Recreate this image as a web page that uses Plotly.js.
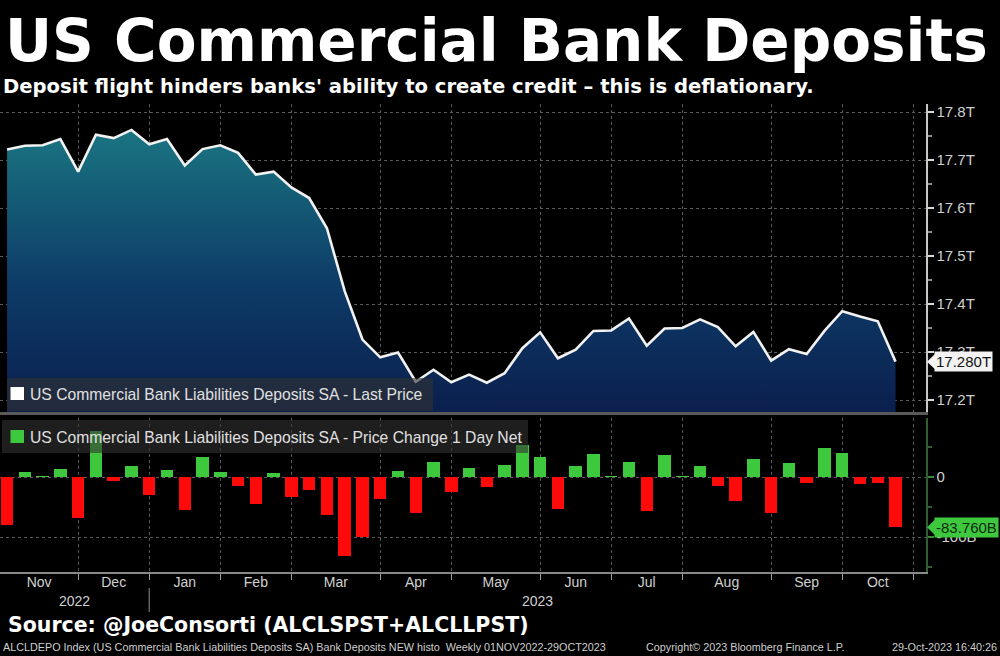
<!DOCTYPE html>
<html>
<head>
<meta charset="utf-8">
<script src="https://cdn.plot.ly/plotly-3.0.1.min.js"></script>
<style>
  html, body { margin: 0; padding: 0; background: #000; }
  #chart { width: 1000px; height: 656px; }
</style>
</head>
<body>
<div id="chart"></div>
<script>
// weekly observations (Wednesdays)
const weeks = [
  '2022-11-09', '2022-11-16', '2022-11-23', '2022-11-30',
  '2022-12-07', '2022-12-14', '2022-12-21', '2022-12-28',
  '2023-01-04', '2023-01-11', '2023-01-18', '2023-01-25',
  '2023-02-01', '2023-02-08', '2023-02-15', '2023-02-22',
  '2023-03-01', '2023-03-08', '2023-03-15', '2023-03-22', '2023-03-29',
  '2023-04-05', '2023-04-12', '2023-04-19', '2023-04-26',
  '2023-05-03', '2023-05-10', '2023-05-17', '2023-05-24', '2023-05-31',
  '2023-06-07', '2023-06-14', '2023-06-21', '2023-06-28',
  '2023-07-05', '2023-07-12', '2023-07-19', '2023-07-26',
  '2023-08-02', '2023-08-09', '2023-08-16', '2023-08-23', '2023-08-30',
  '2023-09-06', '2023-09-13', '2023-09-20', '2023-09-27',
  '2023-10-04', '2023-10-11', '2023-10-18', '2023-10-25'
];

// deposits, trillions USD
const deposits = [
  17.722, 17.730, 17.731, 17.744, 17.676, 17.753, 17.746, 17.763, 17.733, 17.744,
  17.689, 17.723, 17.731, 17.715, 17.670, 17.676, 17.643, 17.621, 17.558, 17.427,
  17.326, 17.289, 17.299, 17.238, 17.263, 17.237, 17.253, 17.236, 17.256, 17.308,
  17.341, 17.287, 17.305, 17.344, 17.345, 17.370, 17.313, 17.349, 17.350, 17.368,
  17.352, 17.312, 17.342, 17.282, 17.306, 17.296, 17.344, 17.385, 17.374, 17.364,
  17.280
];

// week-on-week change, billions USD
const weeklyChange = [
  -79.7, 7.7, 1.0, 13.7, -68.7, 77.0, -7.1, 17.6, -30.2, 11.0,
  -55.0, 34.0, 7.7, -15.4, -45.6, 6.0, -33.0, -22.0, -63.2, -130.8,
  -100.5, -36.8, 9.3, -60.4, 24.7, -25.8, 15.4, -16.5, 19.4, 52.8,
  33.0, -54.0, 17.8, 38.9, 1.0, 25.0, -56.7, 36.0, 1.0, 17.8,
  -15.6, -40.6, 30.6, -60.0, 23.3, -10.0, 48.3, 40.6, -11.0, -10.0,
  -83.76
];

// first observation of each month -> grid lines
const monthStarts = [
  '2022-12-07', '2023-01-04', '2023-02-01', '2023-03-01', '2023-04-05', '2023-05-03',
  '2023-06-07', '2023-07-05', '2023-08-02', '2023-09-06', '2023-10-04', '2023-11-01'
];
const monthNames = ['Nov', 'Dec', 'Jan', 'Feb', 'Mar', 'Apr', 'May', 'Jun', 'Jul', 'Aug', 'Sep', 'Oct'];
const years = ['2022', '2023'];

const xRange = ['2022-11-06 05:00', '2023-11-06'];
const lastPrice = 17.280;
const lastChange = -83.76;

const ms = d => Date.parse(d.replace(' ', 'T') + (d.length > 10 ? ':00Z' : 'T00:00:00Z'));
const bounds = [ms(xRange[0])].concat(monthStarts.map(ms));
const monthMids = monthNames.map((_, i) => (bounds[i] + bounds[i + 1]) / 2);
const yearMids = [
  (ms(xRange[0]) + ms('2023-01-04')) / 2,
  (ms('2023-01-04') + ms(xRange[1])) / 2
];

const axisFont = { family: 'Liberation Sans, Arial, sans-serif', size: 15, color: '#d0d0d0' };
const boldFont = 'DejaVu Sans, Verdana, sans-serif';
const smallFont = { family: 'Liberation Sans, Arial, sans-serif', size: 10.8, color: '#cfcfcf' };
const green = '#3ec83e';
const red = '#ff0a0a';

// paper y from pixel y (plot area spans 104..572)
const py = p => (572 - p) / 468;
const px = p => p / 926;

const traces = [
  {
    type: 'scatter',
    mode: 'lines',
    x: weeks,
    y: deposits,
    xaxis: 'x', yaxis: 'y',
    line: { color: '#f2f2f2', width: 2.6 },
    fill: 'tozeroy',
    fillgradient: {
      type: 'vertical',
      start: 17.175,
      stop: 17.76,
      colorscale: [[0, '#0b1f4e'], [0.45, '#0d3b67'], [1, '#1a7481']]
    },
    showlegend: false,
    hoverinfo: 'x+y'
  },
  {
    type: 'bar',
    x: weeks,
    y: weeklyChange,
    xaxis: 'x2', yaxis: 'y2',
    width: 4.9 * 86400000,
    marker: { color: weeklyChange.map(v => v >= 0 ? green : red), line: { width: 0 } },
    showlegend: false
  },
  // invisible trace to carry the month label axis
  {
    type: 'scatter', mode: 'markers',
    x: [weeks[0]], y: [0],
    xaxis: 'x3', yaxis: 'y2',
    marker: { opacity: 0 },
    showlegend: false, hoverinfo: 'skip'
  }
];

const gridStyle = { showgrid: true, gridcolor: '#5a5a5a', griddash: 'dot', gridwidth: 1 };

const layout = {
  width: 1000,
  height: 656,
  paper_bgcolor: '#000',
  plot_bgcolor: '#000',
  margin: { l: 0, r: 74, t: 104, b: 84 },
  showlegend: false,
  bargap: 0,
  xaxis: {
    ...gridStyle,
    type: 'date',
    range: xRange,
    domain: [0, 1],
    anchor: 'y',
    tickmode: 'array',
    tickvals: monthStarts,
    showticklabels: false,
    ticks: '',
    showline: true,
    linecolor: '#595959',
    linewidth: 3,
    zeroline: false,
    fixedrange: true
  },
  yaxis: {
    ...gridStyle,
    domain: [py(412), 1],
    anchor: 'x',
    side: 'right',
    range: [17.175, 17.817],
    tick0: 17.2,
    dtick: 0.1,
    tickformat: '.1f',
    ticksuffix: 'T',
    ticks: 'outside',
    ticklen: 6,
    tickwidth: 2,
    tickcolor: '#d8d8d8',
    minor: { ticks: 'outside', ticklen: 4, tickcolor: '#888', dtick: 0.05, tick0: 17.15, showgrid: false },
    showline: true,
    linecolor: '#c8c8c8',
    linewidth: 1.5,
    zeroline: false,
    tickfont: axisFont
  },
  xaxis2: {
    ...gridStyle,
    type: 'date',
    range: xRange,
    anchor: 'y2',
    tickmode: 'array',
    tickvals: monthStarts,
    showticklabels: false,
    ticks: 'outside',
    ticklen: 6,
    tickcolor: '#9a9a9a',
    showline: true,
    linecolor: '#8a8a8a',
    linewidth: 1.5,
    zeroline: false
  },
  xaxis3: {
    type: 'date',
    range: xRange,
    overlaying: 'x2',
    anchor: 'y2',
    side: 'bottom',
    tickmode: 'array',
    tickvals: monthMids,
    ticktext: monthNames,
    ticks: '',
    showgrid: false,
    showline: false,
    zeroline: false,
    tickfont: { ...axisFont, size: 14 }
  },
  yaxis2: {
    ...gridStyle,
    domain: [0, py(418)],
    anchor: 'x2',
    side: 'right',
    range: [-158.3, 98.3],
    tickmode: 'array',
    tickvals: [0, -100],
    ticktext: ['0', '-100B'],
    ticks: 'outside',
    ticklen: 6,
    tickwidth: 2,
    tickcolor: '#3a8a3a',
    minor: { ticks: 'outside', ticklen: 4, tickcolor: '#2e5e2e', dtick: 50, tick0: 0, showgrid: false },
    showline: true,
    linecolor: '#2f5f2f',
    linewidth: 1.5,
    zeroline: false,
    tickfont: axisFont
  },
  shapes: [
    // legend boxes
    { type: 'rect', xref: 'paper', yref: 'paper', x0: px(7), x1: px(433), y0: py(411), y1: py(378),
      fillcolor: 'rgba(50,50,50,0.6)', line: { width: 0 }, layer: 'above' },
    { type: 'rect', xref: 'paper', yref: 'paper', x0: px(10.5), x1: px(24), y0: py(400), y1: py(387),
      fillcolor: '#ffffff', line: { width: 0 }, layer: 'above' },
    { type: 'rect', xref: 'paper', yref: 'paper', x0: px(2), x1: px(528), y0: py(453), y1: py(420),
      fillcolor: 'rgba(50,50,50,0.6)', line: { width: 0 }, layer: 'above' },
    { type: 'rect', xref: 'paper', yref: 'paper', x0: px(10.5), x1: px(24), y0: py(443), y1: py(430),
      fillcolor: green, line: { width: 0 }, layer: 'above' },
    // year divider
    { type: 'line', xref: 'x2', yref: 'paper', x0: '2023-01-04', x1: '2023-01-04', y0: py(588), y1: py(612),
      line: { color: '#777', width: 1.2 } },
    // pointers of the last-value tags
    { type: 'path', xref: 'paper', yref: 'y',
      path: `M${px(927)},${lastPrice} L${px(935)},${lastPrice + 0.016} L${px(935)},${lastPrice - 0.016} Z`,
      fillcolor: '#f2f2f2', line: { width: 0 } },
    { type: 'path', xref: 'paper', yref: 'y2',
      path: `M${px(927)},${lastChange} L${px(935)},${lastChange + 13} L${px(935)},${lastChange - 13} Z`,
      fillcolor: green, line: { width: 0 } }
  ],
  annotations: [
    { text: '<b>US Commercial Bank Deposits</b>', xref: 'paper', yref: 'paper', x: px(3), y: py(41),
      xanchor: 'left', yanchor: 'middle', showarrow: false,
      font: { family: boldFont, size: 58, color: '#ffffff' } },
    { text: "<b>Deposit flight hinders banks' ability to create credit – this is deflationary.</b>",
      xref: 'paper', yref: 'paper', x: px(1), y: py(87),
      xanchor: 'left', yanchor: 'middle', showarrow: false,
      font: { family: boldFont, size: 19.6, color: '#ffffff' } },
    { text: 'US Commercial Bank Liabilities Deposits SA - Last Price', xref: 'paper', yref: 'paper',
      x: px(28), y: py(394), xanchor: 'left', yanchor: 'middle', showarrow: false,
      font: { ...axisFont, size: 15.7, color: '#e0e0e0' } },
    { text: 'US Commercial Bank Liabilities Deposits SA - Price Change 1 Day Net', xref: 'paper', yref: 'paper',
      x: px(28), y: py(437), xanchor: 'left', yanchor: 'middle', showarrow: false,
      font: { ...axisFont, size: 15.7, color: '#e0e0e0' } },
    { text: lastPrice.toFixed(3) + 'T', xref: 'paper', yref: 'y', x: px(934), y: lastPrice,
      xanchor: 'left', yanchor: 'middle', showarrow: false, bgcolor: '#f2f2f2', borderpad: 1,
      font: { ...axisFont, color: '#111' } },
    { text: lastChange.toFixed(3) + 'B', xref: 'paper', yref: 'y2', x: px(934), y: lastChange,
      xanchor: 'left', yanchor: 'middle', showarrow: false, bgcolor: green, borderpad: 1,
      font: { ...axisFont, color: '#0d2a0d' } },
    { text: years[0], xref: 'x2', yref: 'paper', x: yearMids[0], y: py(601),
      xanchor: 'center', yanchor: 'middle', showarrow: false, font: { ...axisFont, size: 14 } },
    { text: years[1], xref: 'x2', yref: 'paper', x: yearMids[1], y: py(601),
      xanchor: 'center', yanchor: 'middle', showarrow: false, font: { ...axisFont, size: 14 } },
    { text: '<b>Source: @JoeConsorti (ALCLSPST+ALCLLPST)</b>', xref: 'paper', yref: 'paper',
      x: px(6), y: py(625), xanchor: 'left', yanchor: 'middle', showarrow: false,
      font: { family: boldFont, size: 20.5, color: '#ffffff' } },
    { text: 'ALCLDEPO Index (US Commercial Bank Liabilities Deposits SA) Bank Deposits NEW histo  Weekly 01NOV2022-29OCT2023',
      xref: 'paper', yref: 'paper', x: px(1), y: py(647), xanchor: 'left', yanchor: 'middle', showarrow: false,
      font: smallFont },
    { text: 'Copyright© 2023 Bloomberg Finance L.P.', xref: 'paper', yref: 'paper',
      x: px(644), y: py(647), xanchor: 'left', yanchor: 'middle', showarrow: false,
      font: smallFont },
    { text: '29-Oct-2023 16:40:26', xref: 'paper', yref: 'paper',
      x: px(999), y: py(647), xanchor: 'right', yanchor: 'middle', showarrow: false,
      font: smallFont }
  ]
};

Plotly.newPlot('chart', traces, layout, { displayModeBar: false, staticPlot: true });
</script>
</body>
</html>
